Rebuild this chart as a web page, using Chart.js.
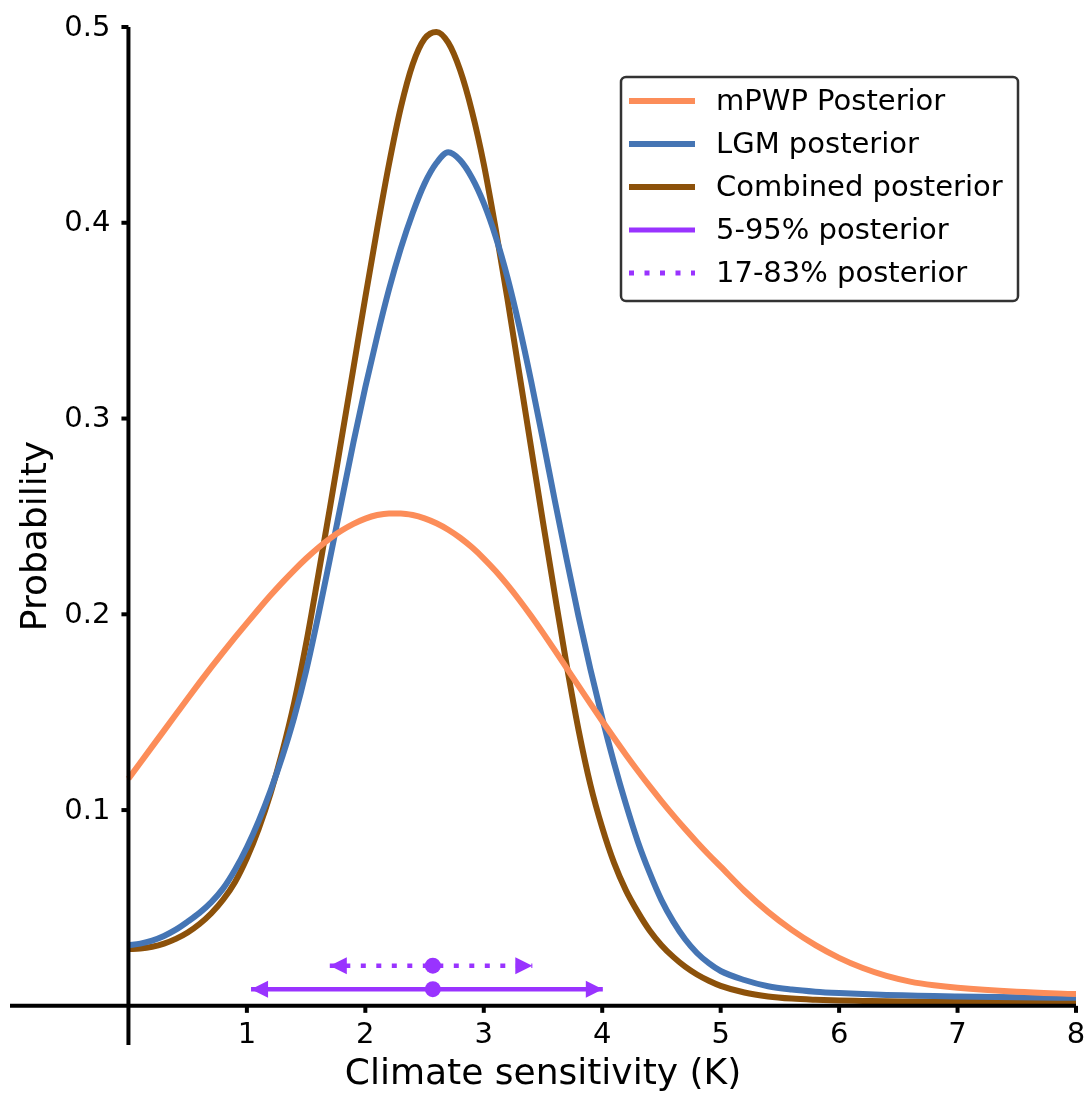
<!DOCTYPE html>
<html>
<head>
<meta charset="utf-8">
<title>Climate sensitivity posteriors</title>
<script src="https://cdn.jsdelivr.net/npm/chart.js@4.4.1/dist/chart.umd.min.js"></script>
<style>
    html, body { margin: 0; padding: 0; background: #ffffff; }
    #posteriorChart { display: block; }
</style>
</head>
<body>
<canvas id="posteriorChart" width="1084" height="1095"></canvas>
<script>
// climate sensitivity grid (K)
const sensitivity = [
    0.0, 0.1, 0.2, 0.3, 0.4, 0.5, 0.6, 0.7, 0.8, 0.9,
    1.0, 1.1, 1.2, 1.3, 1.4, 1.5, 1.6, 1.7, 1.8, 1.9,
    2.0, 2.1, 2.2, 2.3, 2.4, 2.5, 2.6, 2.7, 2.8, 2.9,
    3.0, 3.1, 3.2, 3.3, 3.4, 3.5, 3.6, 3.7, 3.8, 3.9,
    4.0, 4.1, 4.2, 4.3, 4.4, 4.5, 4.6, 4.7, 4.8, 4.9,
    5.0, 5.2, 5.4, 5.6, 5.8, 6.0, 6.2, 6.4, 6.6, 6.8,
    7.0, 7.5, 8.0
];

const mpwpPosterior = [
    0.1160, 0.1242, 0.1324, 0.1406, 0.1488, 0.1570, 0.1651, 0.1730, 0.1807, 0.1882,
    0.1955, 0.2027, 0.2097, 0.2163, 0.2226, 0.2285, 0.2339, 0.2387, 0.2428, 0.2462,
    0.2489, 0.2507, 0.2515, 0.2515, 0.2507, 0.2490, 0.2465, 0.2432, 0.2391, 0.2342,
    0.2285, 0.2221, 0.2150, 0.2073, 0.1991, 0.1905, 0.1816, 0.1725, 0.1634, 0.1544,
    0.1455, 0.1368, 0.1283, 0.1201, 0.1122, 0.1046, 0.0973, 0.0903, 0.0836, 0.0772,
    0.0711, 0.0588, 0.0480, 0.0388, 0.0310, 0.0245, 0.0193, 0.0153, 0.0124, 0.0105,
    0.0092, 0.0072, 0.0060
];

const lgmPosterior = [
    0.0310, 0.0318, 0.0333, 0.0357, 0.0389, 0.0430, 0.0475, 0.0530, 0.0600, 0.0695,
    0.0810, 0.0945, 0.1100, 0.1275, 0.1475, 0.1710, 0.1985, 0.2280, 0.2580, 0.2880,
    0.3160, 0.3420, 0.3660, 0.3870, 0.4050, 0.4200, 0.4305, 0.4360, 0.4320, 0.4230,
    0.4100, 0.3930, 0.3720, 0.3470, 0.3190, 0.2890, 0.2580, 0.2280, 0.1990, 0.1720,
    0.1470, 0.1240, 0.1030, 0.0840, 0.0680, 0.0540, 0.0430, 0.0340, 0.0270, 0.0218,
    0.0178, 0.0132, 0.0100, 0.0083, 0.0072, 0.0065, 0.0060, 0.0056, 0.0053, 0.0050,
    0.0048, 0.0044, 0.0041
];

const combinedPosterior = [
    0.0290, 0.0293, 0.0302, 0.0318, 0.0342, 0.0375, 0.0418, 0.0473, 0.0543, 0.0633,
    0.0755, 0.0905, 0.1085, 0.1300, 0.1550, 0.1850, 0.2190, 0.2540, 0.2900, 0.3260,
    0.3620, 0.3970, 0.4300, 0.4590, 0.4810, 0.4940, 0.4975, 0.4920, 0.4780, 0.4570,
    0.4300, 0.3970, 0.3610, 0.3230, 0.2850, 0.2470, 0.2100, 0.1740, 0.1410, 0.1130,
    0.0910, 0.0730, 0.0590, 0.0480, 0.0385, 0.0310, 0.0250, 0.0200, 0.0160, 0.0128,
    0.0102, 0.0068, 0.0048, 0.0037, 0.0031, 0.0027, 0.0025, 0.0023, 0.0022, 0.0021,
    0.0020, 0.0019, 0.0018
];

// combined posterior ranges and median
const range5to95 = [1.035, 4.005];
const range17to83 = [1.70, 3.41];
const medianSensitivity = 2.57;
const rangeLevels = [0.0085, 0.0205];

const xTicks = [1, 2, 3, 4, 5, 6, 7, 8];
const yTicks = [0.1, 0.2, 0.3, 0.4, 0.5];
const yTickLabels = ["0.1", "0.2", "0.3", "0.4", "0.5"];

const legendLabels = ["mPWP Posterior", "LGM posterior", "Combined posterior", "5-95% posterior", "17-83% posterior"];

const ORANGE = "#fc8d59";
const BLUE = "#4575b4";
const BROWN = "#8c510a";
const PURPLE = "#9933ff";
const FONT = "'DejaVu Sans', 'Liberation Sans', sans-serif";

function toPoints(xs, ys) {
    return xs.map(function (x, i) { return { x: x, y: ys[i] }; });
}

const curveStyle = {
    borderWidth: 6,
    pointRadius: 0,
    cubicInterpolationMode: "monotone",
    fill: false,
};

// axes drawn at zero like matplotlib spines
const spinePlugin = {
    id: "spines",
    afterDatasetsDraw(chart) {
        const ctx = chart.ctx;
        const area = chart.chartArea;
        const xs = chart.scales.x;
        const ys = chart.scales.y;
        const x0 = xs.getPixelForValue(0);
        const y0 = ys.getPixelForValue(0);

        ctx.save();
        ctx.strokeStyle = "#000000";
        ctx.fillStyle = "#000000";
        ctx.lineWidth = 4;
        ctx.lineCap = "butt";

        ctx.beginPath();
        ctx.moveTo(x0, area.top);
        ctx.lineTo(x0, area.bottom);
        ctx.moveTo(area.left, y0);
        ctx.lineTo(area.right, y0);
        ctx.stroke();

        ctx.font = "29px " + FONT;

        // x ticks
        ctx.textAlign = "center";
        ctx.textBaseline = "top";
        xTicks.forEach(function (t) {
            const px = xs.getPixelForValue(t);
            ctx.beginPath();
            ctx.moveTo(px, y0);
            ctx.lineTo(px, y0 + 7);
            ctx.stroke();
            ctx.fillText(String(t), px, y0 + 15);
        });

        // y ticks
        ctx.textAlign = "right";
        ctx.textBaseline = "middle";
        yTicks.forEach(function (t, i) {
            const py = ys.getPixelForValue(t);
            ctx.beginPath();
            ctx.moveTo(x0, py);
            ctx.lineTo(x0 - 7, py);
            ctx.stroke();
            ctx.fillText(yTickLabels[i], x0 - 18, py + 1);
        });

        // axis titles
        ctx.font = "36px " + FONT;
        ctx.textAlign = "center";
        ctx.textBaseline = "alphabetic";
        ctx.fillText("Climate sensitivity (K)", (area.left + area.right) / 2, 1084);

        ctx.translate(37, (area.top + area.bottom) / 2);
        ctx.rotate(-Math.PI / 2);
        ctx.textBaseline = "middle";
        ctx.fillText("Probability", 0, 0);
        ctx.restore();
    },
};

// arrow heads on the posterior ranges
const arrowPlugin = {
    id: "arrowHeads",
    afterDatasetsDraw(chart) {
        const ctx = chart.ctx;
        const xs = chart.scales.x;
        const ys = chart.scales.y;
        const ranges = [range5to95, range17to83];

        ctx.save();
        ctx.fillStyle = PURPLE;
        ranges.forEach(function (r, i) {
            const py = ys.getPixelForValue(rangeLevels[i]);
            const left = xs.getPixelForValue(r[0]);
            const right = xs.getPixelForValue(r[1]);
            ctx.beginPath();
            ctx.moveTo(left, py);
            ctx.lineTo(left + 17, py - 8.5);
            ctx.lineTo(left + 17, py + 8.5);
            ctx.closePath();
            ctx.fill();
            ctx.beginPath();
            ctx.moveTo(right, py);
            ctx.lineTo(right - 17, py - 8.5);
            ctx.lineTo(right - 17, py + 8.5);
            ctx.closePath();
            ctx.fill();
        });
        ctx.restore();
    },
};

const legendPlugin = {
    id: "boxLegend",
    afterDraw(chart) {
        const ctx = chart.ctx;
        const colors = [ORANGE, BLUE, BROWN, PURPLE, PURPLE];
        const left = 621, top = 77, width = 397, height = 224, radius = 5;

        ctx.save();
        ctx.beginPath();
        ctx.roundRect(left, top, width, height, radius);
        ctx.fillStyle = "#ffffff";
        ctx.fill();
        ctx.lineWidth = 2.5;
        ctx.strokeStyle = "#333333";
        ctx.stroke();

        ctx.font = "29px " + FONT;
        ctx.textAlign = "left";
        ctx.textBaseline = "middle";
        legendLabels.forEach(function (label, i) {
            const py = 101 + 43 * i;
            ctx.beginPath();
            ctx.strokeStyle = colors[i];
            ctx.lineWidth = i < 3 ? 6 : 5;
            ctx.setLineDash(i === 4 ? [5, 10.5] : []);
            ctx.moveTo(629, py);
            ctx.lineTo(695, py);
            ctx.stroke();
            ctx.setLineDash([]);
            ctx.fillStyle = "#000000";
            ctx.fillText(label, 716, py + 1);
        });
        ctx.restore();
    },
};

document.addEventListener("DOMContentLoaded", function () {
    const ctx = document.getElementById("posteriorChart").getContext("2d");

    const datasets = [
        Object.assign({ label: legendLabels[0], data: toPoints(sensitivity, mpwpPosterior), borderColor: ORANGE }, curveStyle),
        Object.assign({ label: legendLabels[1], data: toPoints(sensitivity, lgmPosterior), borderColor: BLUE }, curveStyle),
        Object.assign({ label: legendLabels[2], data: toPoints(sensitivity, combinedPosterior), borderColor: BROWN }, curveStyle),
        {
            label: legendLabels[3],
            data: toPoints(range5to95, [rangeLevels[0], rangeLevels[0]]),
            borderColor: PURPLE,
            borderWidth: 4.5,
            pointRadius: 0,
        },
        {
            label: legendLabels[4],
            data: toPoints(range17to83, [rangeLevels[1], rangeLevels[1]]),
            borderColor: PURPLE,
            borderWidth: 4.5,
            borderDash: [5, 10.5],
            pointRadius: 0,
        },
        {
            label: "median",
            data: toPoints([medianSensitivity, medianSensitivity], rangeLevels),
            showLine: false,
            pointRadius: 8,
            pointBackgroundColor: PURPLE,
            pointBorderWidth: 0,
        },
    ];

    new Chart(ctx, {
        type: "line",
        data: { datasets: datasets },
        options: {
            responsive: false,
            animation: false,
            devicePixelRatio: 1,
            layout: { padding: { left: 10, top: 27, right: 8, bottom: 50 } },
            scales: {
                x: { type: "linear", min: -1, max: 8, display: false },
                y: { type: "linear", min: -0.02, max: 0.5, display: false },
            },
            plugins: {
                legend: { display: false },
                tooltip: { enabled: false },
            },
        },
        plugins: [spinePlugin, arrowPlugin, legendPlugin],
    });
});
</script>
</body>
</html>
